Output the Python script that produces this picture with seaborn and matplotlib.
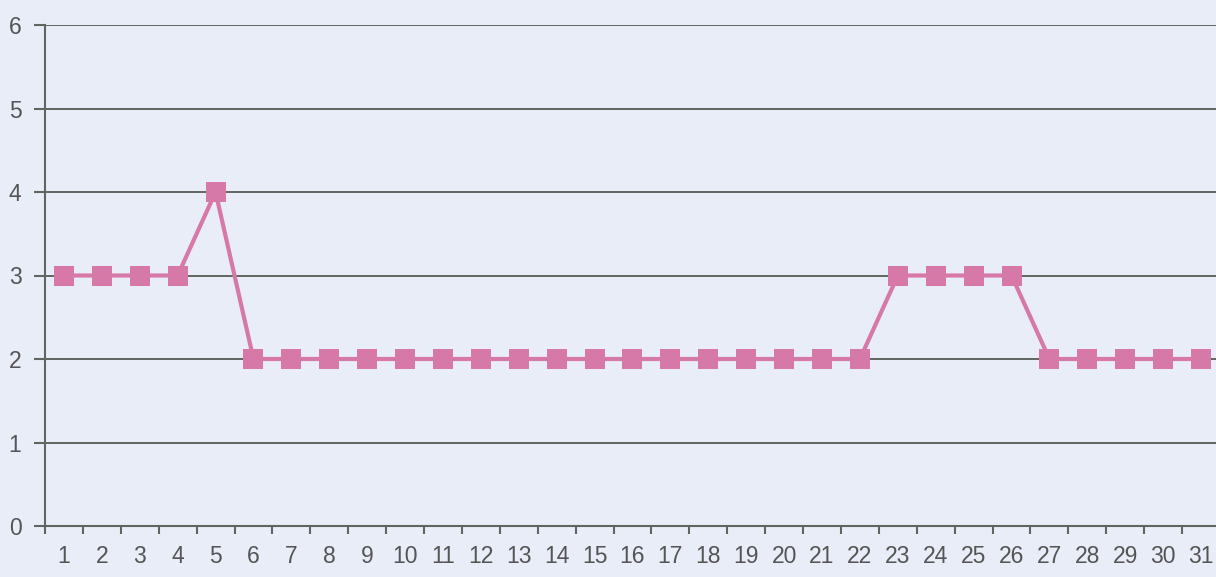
import matplotlib
matplotlib.use("Agg")
import matplotlib.pyplot as plt
import seaborn as sns
import pandas as pd
from matplotlib.ticker import FixedLocator

sns.set_style("white")
plt.rcParams['font.family'] = ['Liberation Sans', 'DejaVu Sans']

days = list(range(1, 32))
values = [3, 3, 3, 3, 4] + [2] * 17 + [3, 3, 3, 3] + [2] * 5

df = pd.DataFrame({'Day': days, 'Value': values})

bg = '#e9edf8'
line_col = '#d678a8'
grid_col = '#5f665f'
text_col = '#555555'

fig = plt.figure(figsize=(12.16, 5.77), dpi=100)
fig.patch.set_facecolor(bg)
W, H = 1216, 577
left, right, top, bottom = 45, 1220, 25, 526
ax = fig.add_axes([left / W, 1 - bottom / H, (right - left) / W, (bottom - top) / H])
ax.set_facecolor(bg)

sns.lineplot(x='Day', y='Value', data=df, ax=ax, color=line_col, linewidth=3,
             marker='s', markersize=14.5, markeredgewidth=0, markerfacecolor=line_col)

ax.set_xlim(0.5, 31.5)
ax.set_ylim(0, 6)
ax.set_yticks(range(0, 7))
ax.set_xticks(days)
ax.xaxis.set_minor_locator(FixedLocator([d + 0.5 for d in range(0, 32)]))
ax.tick_params(axis='both', which='both', bottom=True, left=True)
ax.tick_params(axis='x', which='major', length=0, pad=14, labelsize=16.5, labelcolor=text_col)
ax.tick_params(axis='x', which='minor', length=6, width=1.5, color=grid_col, direction='out')
ax.tick_params(axis='y', length=8, width=1.5, color=grid_col, direction='out', pad=9,
               labelsize=16.5, labelcolor=text_col)
ax.grid(axis='y', color=grid_col, linewidth=1.4)
ax.set_axisbelow(True)
ax.set_xlabel('')
ax.set_ylabel('')
for s in ['top', 'right']:
    ax.spines[s].set_visible(False)
for s in ['left', 'bottom']:
    ax.spines[s].set_color(grid_col)
    ax.spines[s].set_linewidth(1.5)

fig.savefig('out.png', dpi=100, facecolor=bg)
